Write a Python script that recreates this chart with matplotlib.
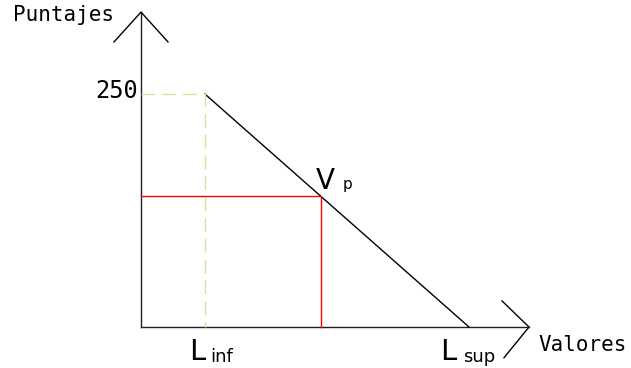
import numpy as np
import matplotlib
matplotlib.use("Agg")
import matplotlib.pyplot as plt

# data (x in "valores" units, y in puntajes)
max_score = 250
l_inf = 16
l_sup = 82
vp = 45
x_end = 97
y_end = 338

# score at Vp from the linear rule
vp_score = max_score * (l_sup - vp) / (l_sup - l_inf)

fig = plt.figure(figsize=(6.31, 3.68), dpi=100)
ax = fig.add_axes([0, 0, 1, 1])
ax.set_xlim(-35.25, 122.5)
ax.set_ylim(-44, 351)
ax.axis('off')

lw = 1.0
# axes
ax.plot([0, 0], [0, y_end], color='#202020', lw=lw)
ax.plot([0, x_end], [0, 0], color='#202020', lw=lw)
# arrowheads
ax.plot([-6.75, 0, 6.75], [y_end - 32, y_end, y_end - 32], color='black', lw=lw)
ax.plot([x_end - 6.75, x_end, x_end - 6.25], [28, 0, -33], color='black', lw=lw)

# decreasing line
ax.plot([l_inf, l_sup], [max_score, 0], color='black', lw=lw)

# yellow dashed guides
ax.plot([0, l_inf, l_inf], [max_score, max_score, 0], color='#dede9c',
        lw=lw, dashes=(10, 5))

# red guides at Vp
ax.plot([0, vp, vp], [vp_score, vp_score, 0], color='red', lw=lw)

mono = 'DejaVu Sans Mono'
sans = 'DejaVu Sans'
ax.text(-32, 335, 'Puntajes', fontsize=15, family=mono, ha='left', va='center')
ax.text(-0.75, max_score + 3, '250', fontsize=17, family=mono, ha='right', va='center')
ax.text(vp - 1.25, vp_score + 8.5, 'V', fontsize=20, family=sans, ha='left', va='baseline')
ax.text(vp + 5.5, vp_score + 7.5, 'p', fontsize=11, family=sans, ha='left', va='baseline')
ax.text(l_inf - 4, -35.4, 'L', fontsize=21, family=sans, ha='left', va='baseline')
ax.text(l_inf + 1.25, -37.5, 'inf', fontsize=13, family=sans, ha='left', va='baseline')
ax.text(l_sup - 7.25, -35.4, 'L', fontsize=21, family=sans, ha='left', va='baseline')
ax.text(l_sup - 1.5, -37.5, 'sup', fontsize=13, family=sans, ha='left', va='baseline')
ax.text(99.25, -19, 'Valores', fontsize=15, family=mono, ha='left', va='center')

fig.savefig('out.png', dpi=100)
